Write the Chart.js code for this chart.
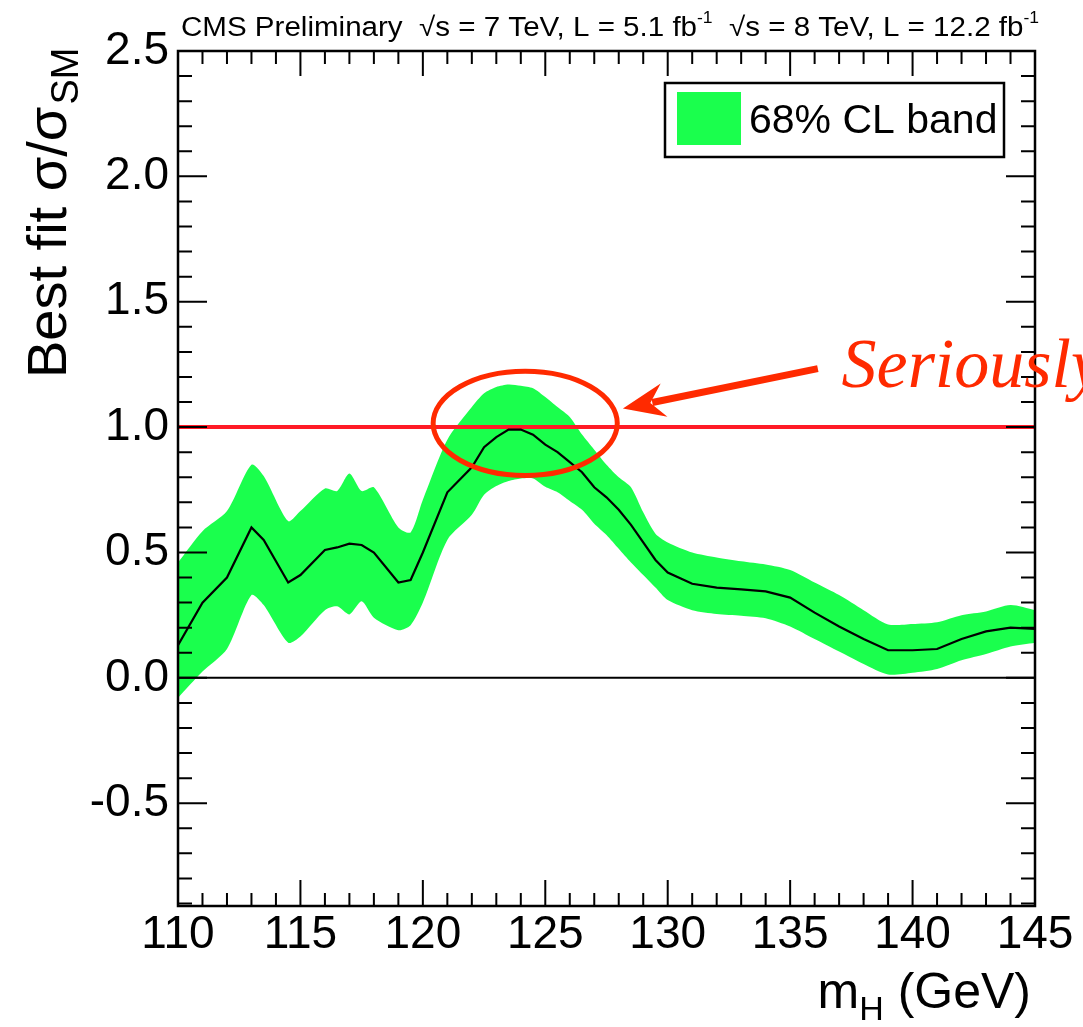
<!DOCTYPE html>
<html><head><meta charset="utf-8">
<script src="https://cdn.jsdelivr.net/npm/chart.js@4.4.0/dist/chart.umd.min.js"></script>
<style>html,body{margin:0;padding:0;background:#fff}#wrap{width:1083px;height:1027px}</style>
</head><body><div id="wrap"><canvas id="c" width="1083" height="1027"></canvas></div>
<script>
// ---- data ----
const massPoints = [110,111,112,113,113.5,114.5,115,116,116.5,117,117.5,118,119,119.5,120,
  121,122,122.5,123,123.5,124,124.5,125,125.5,126,126.5,127,127.5,128,128.5,129,129.5,130,
  131,132,133,134,135,136,137,138,139,140,141,142,143,144,145];
const bestFit = [0.13,0.30,0.40,0.60,0.55,0.38,0.41,0.51,0.52,0.535,0.53,0.50,0.38,0.39,0.50,
  0.74,0.84,0.92,0.96,0.99,0.99,0.97,0.93,0.90,0.86,0.82,0.76,0.72,0.67,0.61,0.54,0.47,0.42,
  0.375,0.36,0.353,0.345,0.32,0.26,0.205,0.155,0.11,0.11,0.115,0.155,0.185,0.20,0.195];
const bandUpper = [0.46,0.585,0.665,0.85,0.805,0.625,0.665,0.755,0.745,0.815,0.745,0.76,0.60,0.58,0.71,
  0.95,1.08,1.135,1.16,1.17,1.165,1.155,1.12,1.08,1.04,0.97,0.91,0.85,0.80,0.76,0.66,0.575,0.54,
  0.50,0.48,0.465,0.452,0.43,0.38,0.33,0.27,0.213,0.215,0.222,0.25,0.265,0.29,0.27];
const bandLower = [-0.08,0.025,0.115,0.33,0.29,0.14,0.165,0.27,0.285,0.253,0.305,0.24,0.19,0.21,0.30,
  0.55,0.65,0.73,0.765,0.785,0.795,0.795,0.762,0.74,0.705,0.67,0.615,0.57,0.515,0.46,0.41,0.36,0.31,
  0.27,0.255,0.248,0.238,0.205,0.155,0.105,0.055,0.013,0.02,0.035,0.07,0.095,0.125,0.14];
const smLevel = 1.0;
const xRange = [110, 145];
const yRange = [-0.91, 2.5];
const legendLabel = '68% CL band';
const yTitleMain = 'Best fit \u03c3/\u03c3';
const yTitleSub = 'SM';
const xTitleMain = 'm';
const xTitleSub = 'H';
const xTitleRest = ' (GeV)';
const headerParts = [['CMS Preliminary  \u221as = 7 TeV, L = 5.1 fb', 0], ['-1', 1],
                     ['  \u221as = 8 TeV, L = 12.2 fb', 0], ['-1', 1]];
const noteText = 'Seriously';
const noteAt = {x: 137.1, y: 1.16};
const arrowFrom = {x: 136.13, y: 1.233};
const arrowTo = {x: 128.17, y: 1.074};
const ringCenter = {x: 124.18, y: 1.015};
const ringRadius = {x: 3.76, y: 0.208};

const SANS = '"Liberation Sans", Arial, Helvetica, sans-serif';
const GREEN = '#1aff4d';
const NOTE_RED = '#ff2a00';

const pts = arr => massPoints.map((m, i) => ({x: m, y: arr[i]}));

const framePlugin = {
  id: 'frame',
  afterDatasetsDraw(chart) {
    const {ctx, chartArea: a, scales: {x, y}} = chart;
    ctx.save();
    ctx.strokeStyle = '#000';
    ctx.lineWidth = 2;
    ctx.beginPath();
    for (let m = xRange[0]; m <= xRange[1]; m++) {
      const px = x.getPixelForValue(m);
      const major = m % 5 === 0;
      ctx.moveTo(px, a.bottom); ctx.lineTo(px, a.bottom - (major ? 26 : 13));
      ctx.moveTo(px, a.top); ctx.lineTo(px, a.top + (major ? 25 : 13));
    }
    for (let k = -9; k <= 25; k++) {
      const py = y.getPixelForValue(k / 10);
      const major = k % 5 === 0;
      const len = major ? 29 : 14;
      ctx.moveTo(a.left, py); ctx.lineTo(a.left + len, py);
      ctx.moveTo(a.right, py); ctx.lineTo(a.right - len, py);
    }
    ctx.stroke();
    ctx.lineWidth = 2.5;
    ctx.strokeRect(a.left, a.top, a.right - a.left, a.bottom - a.top);
    ctx.restore();
  }
};

const decorPlugin = {
  id: 'decor',
  afterDraw(chart) {
    const {ctx, chartArea: a, scales: {x, y}} = chart;
    ctx.save();
    ctx.fillStyle = '#000';
    // header (condensed to span the frame width)
    let total = 0;
    headerParts.forEach(([t, sup]) => {
      ctx.font = (sup ? '16px ' : '27px ') + SANS;
      total += ctx.measureText(t).width;
    });
    const sx = (a.right + 4 - (a.left + 3)) / total;
    ctx.save();
    ctx.translate(a.left + 3, 36);
    ctx.scale(sx, 1);
    let cx = 0;
    headerParts.forEach(([t, sup]) => {
      ctx.font = (sup ? '16px ' : '27px ') + SANS;
      ctx.fillText(t, cx, sup ? -13 : 0);
      cx += ctx.measureText(t).width;
    });
    ctx.restore();

    // y title
    ctx.save();
    ctx.translate(66, 378);
    ctx.rotate(-Math.PI / 2);
    ctx.font = '56px ' + SANS;
    ctx.textBaseline = 'alphabetic';
    ctx.fillText(yTitleMain, 0, 0);
    const w = ctx.measureText(yTitleMain).width;
    ctx.font = '38px ' + SANS;
    ctx.fillText(yTitleSub, w + 2, 12);
    ctx.restore();

    // x title
    ctx.font = '50px ' + SANS;
    const w1 = ctx.measureText(xTitleMain).width;
    const w3 = ctx.measureText(xTitleRest).width;
    ctx.font = '34px ' + SANS;
    const w2 = ctx.measureText(xTitleSub).width;
    let tx = a.right - 4 - (w1 + w2 + w3);
    const ty = 1008;
    ctx.font = '50px ' + SANS; ctx.fillText(xTitleMain, tx, ty); tx += w1;
    ctx.font = '34px ' + SANS; ctx.fillText(xTitleSub, tx, ty + 12); tx += w2;
    ctx.font = '50px ' + SANS; ctx.fillText(xTitleRest, tx, ty);

    // legend
    const bx = a.right - 370, by = a.top + 32, bw = 339, bh = 74;
    ctx.fillStyle = '#fff';
    ctx.fillRect(bx, by, bw, bh);
    ctx.strokeStyle = '#000'; ctx.lineWidth = 2.5;
    ctx.strokeRect(bx, by, bw, bh);
    ctx.fillStyle = GREEN;
    ctx.fillRect(bx + 12, by + 9, 64, 53);
    ctx.fillStyle = '#000';
    ctx.font = '41px ' + SANS;
    ctx.fillText(legendLabel, bx + 84, by + 50);

    // annotation: ring, arrow, note
    ctx.strokeStyle = NOTE_RED; ctx.fillStyle = NOTE_RED;
    const ex = x.getPixelForValue(ringCenter.x), ey = y.getPixelForValue(ringCenter.y);
    const rx = x.getPixelForValue(ringCenter.x + ringRadius.x) - ex;
    const ry = ey - y.getPixelForValue(ringCenter.y + ringRadius.y);
    ctx.lineWidth = 5;
    ctx.beginPath(); ctx.ellipse(ex, ey, rx, ry, 0, 0, Math.PI * 2); ctx.stroke();

    const x0 = x.getPixelForValue(arrowFrom.x), y0 = y.getPixelForValue(arrowFrom.y);
    const x1 = x.getPixelForValue(arrowTo.x), y1 = y.getPixelForValue(arrowTo.y);
    const ang = Math.atan2(y1 - y0, x1 - x0);
    const hl = 36, hw = 17;
    const bxp = x1 - hl * Math.cos(ang), byp = y1 - hl * Math.sin(ang);
    ctx.lineWidth = 7; ctx.lineCap = 'butt';
    ctx.beginPath(); ctx.moveTo(x0, y0); ctx.lineTo(bxp + 6 * Math.cos(ang), byp + 6 * Math.sin(ang)); ctx.stroke();
    ctx.beginPath();
    ctx.moveTo(x1, y1);
    ctx.lineTo(bxp - hw * Math.sin(ang) - 6 * Math.cos(ang), byp + hw * Math.cos(ang) - 6 * Math.sin(ang));
    ctx.lineTo(bxp + 8 * Math.cos(ang), byp + 8 * Math.sin(ang));
    ctx.lineTo(bxp + hw * Math.sin(ang) - 6 * Math.cos(ang), byp - hw * Math.cos(ang) - 6 * Math.sin(ang));
    ctx.closePath(); ctx.fill();

    ctx.font = 'italic 70px "Liberation Serif", "Times New Roman", serif';
    ctx.fillText(noteText, x.getPixelForValue(noteAt.x), y.getPixelForValue(noteAt.y));
    ctx.restore();
  }
};

const tickFont = {family: SANS, size: 46};
new Chart(document.getElementById('c'), {
  type: 'line',
  data: {
    datasets: [
      {label: legendLabel, data: pts(bandUpper), borderWidth: 0, pointRadius: 0, fill: '+1', tension: 0.25,
       backgroundColor: GREEN, borderColor: GREEN, order: 4},
      {label: 'lower', data: pts(bandLower), borderWidth: 0, pointRadius: 0, fill: false, tension: 0.25,
       borderColor: GREEN, order: 5},
      {label: 'best fit', data: pts(bestFit), borderColor: '#000', borderWidth: 2.2, pointRadius: 0,
       fill: false, order: 0},
      {label: 'SM', data: [{x: xRange[0], y: smLevel}, {x: xRange[1], y: smLevel}], borderColor: '#ff1a26',
       borderWidth: 4, pointRadius: 0, fill: false, order: 1},
      {label: 'zero', data: [{x: xRange[0], y: 0}, {x: xRange[1], y: 0}], borderColor: '#000',
       borderWidth: 2, pointRadius: 0, fill: false, order: 2}
    ]
  },
  options: {
    responsive: false, animation: false, events: [],
    layout: {padding: {left: 0, top: 51, right: 48, bottom: 0}},
    plugins: {legend: {display: false}, tooltip: {enabled: false}},
    scales: {
      x: {type: 'linear', min: xRange[0], max: xRange[1],
          ticks: {stepSize: 5, font: tickFont, color: '#000', padding: 2, maxRotation: 0, autoSkip: false},
          grid: {display: false, drawTicks: false}, border: {display: false},
          afterFit: s => { s.height = 121; }},
      y: {type: 'linear', min: yRange[0], max: yRange[1],
          ticks: {stepSize: 0.5, includeBounds: false, callback: v => v.toFixed(1), font: tickFont,
                  color: '#000', padding: 9},
          grid: {display: false, drawTicks: false}, border: {display: false},
          afterFit: s => { s.width = 178; }}
    }
  },
  plugins: [framePlugin, decorPlugin]
});
</script></body></html>
